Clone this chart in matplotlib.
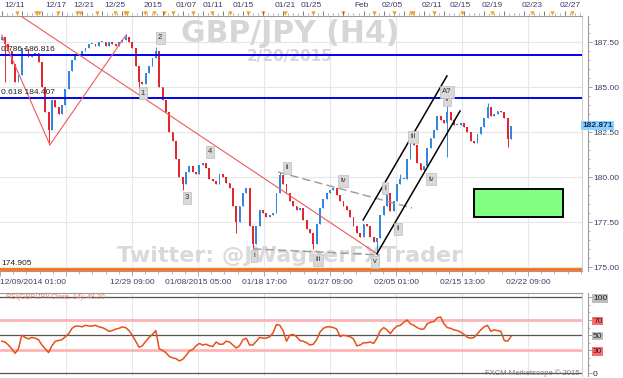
import numpy as np
import matplotlib
matplotlib.use("Agg")
import matplotlib.pyplot as plt
from matplotlib.patches import Rectangle

plt.rcParams["font.family"] = ["Liberation Sans", "DejaVu Sans"]

# GBP/JPY H4, one candle per 2 bars (12/09/2014 -> 02/20/2015)
closes = [
    187.8, 187.4, 187.0, 186.3, 185.3, 185.7, 187.2, 187.1, 186.7, 186.8,
    186.9, 186.4, 185.0, 183.6, 182.6, 184.3, 183.9, 183.5, 184.0, 184.9,
    185.9, 186.5, 186.8, 186.8, 187.0, 187.2, 187.4, 187.4, 187.3, 187.5,
    187.5, 187.3, 187.5, 187.4, 187.3, 187.5, 187.6, 187.8, 187.5, 187.2,
    186.2, 185.3, 185.2, 185.8, 186.2, 186.6, 187.0, 185.0, 184.3, 183.6,
    182.5, 182.0, 181.0, 180.0, 179.6, 180.3, 180.6, 180.3, 180.2, 180.7,
    180.8, 180.5, 179.9, 179.8, 179.6, 180.2, 180.0, 179.7, 179.4, 178.4,
    177.5, 178.4, 179.1, 179.4, 177.3, 176.3, 177.3, 178.2, 178.0, 177.8,
    177.9, 178.0, 179.1, 180.1, 179.6, 179.1, 178.7, 178.4, 178.2, 178.3,
    177.6, 177.1, 176.9, 176.3, 177.4, 178.3, 178.8, 179.1, 179.3, 179.4,
    179.0, 178.7, 178.4, 178.2, 177.8, 177.3, 176.9, 176.7, 177.4, 177.3,
    176.7, 176.4, 176.6, 177.9, 178.4, 179.1, 178.1, 178.7, 179.6, 179.9,
    179.9, 181.0, 182.2, 181.8, 180.8, 180.4, 180.6, 181.6, 182.2, 182.6,
    183.4, 183.2, 183.0, 183.6, 183.2, 182.9, 182.9, 183.0, 182.8, 182.5,
    182.0, 181.9, 182.4, 182.8, 183.3, 183.9, 183.4, 183.5, 183.7, 183.6,
    183.3, 182.1, 182.871,
]
first_open = 187.6
wick_hi = {37: 187.95, 46: 187.25, 83: 180.3, 119: 180.2, 122: 182.5, 133: 184.1, 145: 184.1}
wick_lo = {1: 185.3, 14: 181.8, 41: 184.9, 54: 179.3, 70: 176.9, 75: 176.0, 93: 176.0,
           112: 175.7, 133: 181.1, 151: 181.7}

rsi = [
    42, 41, 37, 32, 26, 32, 50, 47, 45, 47,
    46, 44, 37, 32, 27, 36, 42, 43, 44, 48,
    52, 59, 62, 62, 61, 63, 62, 62, 63, 61,
    60, 58, 55, 56, 58, 59, 61, 60, 56, 50,
    42, 34, 36, 42, 47, 51, 56, 32, 30, 27,
    22, 20, 19, 16, 18, 23, 29, 31, 36, 39,
    37, 38, 36, 35, 41, 38, 38, 42, 41, 37,
    33, 36, 44, 46, 37, 37, 42, 47, 46, 46,
    48, 53, 64, 63, 56, 42, 50, 51, 48, 43,
    42, 40, 37, 38, 44, 54, 59, 61, 61, 60,
    58, 48, 50, 49, 48, 45, 36, 37, 40, 40,
    41, 39, 46, 56, 60, 57, 52, 58, 62, 63,
    67, 70, 65, 63, 60, 58, 58, 65, 67, 68,
    73, 74, 65, 60, 59, 57, 56, 54, 51, 47,
    46, 47, 52, 57, 61, 63, 55, 57, 56, 55,
    43, 42, 48.2,
]

fib_levels = [("0.786", 186.816), ("0.618", 184.407)]
support = 174.905

# drawings (candle index, price)
red_trend = [(5.8, 188.95), (112.0, 175.75)]
red_v = [(0.0, 187.9), (14.4, 181.8), (37.1, 187.9)]
dash_upper = [(82.5, 180.29), (122.5, 178.29)]
dash_lower = [(75.0, 176.02), (112.9, 175.68)]
chan_upper = [(107.9, 177.63), (132.9, 185.63)]
chan_lower = [(112.0, 175.75), (136.8, 183.68)]
target_x = (141.0, 167.6)
target_p = (177.79, 179.35)

wave_labels = [("2", 47.3, 187.74), ("1", 42.2, 184.68), ("3", 55.3, 178.85), ("4", 62.2, 181.41),
               ("ii", 85.2, 180.52), ("i", 75.3, 175.63), ("iii", 94.4, 175.41), ("iv", 101.9, 179.8),
               ("v", 111.4, 175.3), ("i", 114.4, 179.4), ("ii", 118.3, 177.13), ("iii", 122.8, 182.24),
               ("iv", 128.2, 179.9), ("v", 132.9, 184.3), ("A?", 132.9, 184.74)]

top_dates = ["12/11", "12/17", "12/21", "12/25", "2015", "01/07", "01/11", "01/15", "01/21",
             "01/25", "Feb", "02/05", "02/11", "02/15", "02/19", "02/23", "02/27"]
top_pos = [4.0, 16.2, 24.6, 33.8, 45.2, 55.0, 63.1, 72.0, 84.6, 92.3, 107.5, 116.5, 128.4,
           136.8, 146.4, 158.3, 169.6]
event_pos = [4.6, 10.2, 11.1, 16.8, 22.5, 23.4, 28.4, 33.8, 36.8, 37.4, 42.8, 45.5, 48.5,
             51.1, 57.1, 62.8, 68.1, 73.5, 78.0, 84.6, 92.9, 101.9, 111.1, 117.1, 122.2,
             122.8, 129.1, 137.4, 146.4, 158.3, 164.3, 170.2]
bottom_dates = ["12/09/2014 01:00", "", "12/29 09:00", "01/08/2015 05:00", "01/18 17:00",
                "01/27 09:00", "02/05 01:00", "02/15 13:00", "02/22 09:00"]

W, H = 623, 378
fig = plt.figure(figsize=(W / 100, H / 100), dpi=100)


def box(l, t, r, b):
    return [l / W, 1 - b / H, (r - l) / W, (b - t) / H]


ax = fig.add_axes(box(0, 16, 582, 271))
ar = fig.add_axes(box(0, 293, 582, 376))
at = fig.add_axes(box(0, 0, 582, 16))

xlim = (-0.5, 173.2)
grid_x = np.arange(1, 9) * 19.7 - 0.5
label_col = "#3d3d6b"
frame_col = "#9a9a9a"
fs = 6

# ---- price panel
n = len(closes)
x = np.arange(n)
c = np.array(closes)
o = np.r_[first_open, c[:-1]]
hi = np.maximum(o, c)
lo = np.minimum(o, c)
for k, v in wick_hi.items():
    hi[k] = v
for k, v in wick_lo.items():
    lo[k] = v
up = c >= o
cols = np.where(up, "#3187e0", "#e3262b")
body_b = np.minimum(o, c)
body_h = np.maximum(np.abs(c - o), 0.05)
ax.vlines(x, lo, hi, colors=cols, lw=0.7, zorder=3)
ax.bar(x, body_h, bottom=body_b, width=0.55, color=cols, zorder=3, linewidth=0)

ax.set_xlim(*xlim)
ax.set_ylim(174.79, 188.96)
for gx in grid_x:
    ax.axvline(gx, color="#e6e6e6", lw=0.8, zorder=0)
for gy in [175, 177.5, 180, 182.5, 185, 187.5]:
    ax.axhline(gy, color="#e6e6e6", lw=0.8, zorder=0)

for name, lvl in fib_levels:
    ax.axhline(lvl, color="#0000ee", lw=1.4, zorder=4)
    ax.text(-0.2, lvl + 0.08, f"{name} {lvl:.3f}", fontsize=fs, color="#222222",
            va="bottom", ha="left", zorder=5)
ax.axhline(support, color="#ff6a10", lw=2, zorder=4)
ax.text(-0.2, support + 0.1, f"{support:.3f}", fontsize=fs, color="#222222",
        va="bottom", ha="left", zorder=5)

ax.plot(*zip(*red_trend), color="#f05a5a", lw=0.8, zorder=4)
ax.plot(*zip(*red_v), color="#f05a5a", lw=0.8, zorder=4)
ax.plot(*zip(*dash_upper), color="#9a9a9a", lw=1.0, ls=(0, (6, 3)), zorder=4)
ax.plot(*zip(*dash_lower), color="#9a9a9a", lw=1.0, ls=(0, (6, 3)), zorder=4)
ax.plot(*zip(*chan_upper), color="black", lw=1.1, zorder=4)
ax.plot(*zip(*chan_lower), color="black", lw=1.1, zorder=4)
ax.add_patch(Rectangle((target_x[0], target_p[0]), target_x[1] - target_x[0],
                       target_p[1] - target_p[0], fc="#80ff80", ec="black", lw=1.4, zorder=4))

for s, xi, p in wave_labels:
    ax.text(xi, p, s, fontsize=5.5, ha="center", va="center", color="#333333", zorder=6,
            bbox=dict(boxstyle="square,pad=0.3", fc="#d9d9d9", ec="#bdbdbd", lw=0.5))

ax.text(290 / W, 1 - 33 / H, "GBP/JPY (H4)", transform=fig.transFigure, fontsize=21.5,
        fontweight="bold", family="DejaVu Sans", color="#d6d6d6", ha="center", va="center",
        zorder=1)
ax.text(290 / W, 1 - 57 / H, "2/20/2015", transform=fig.transFigure, fontsize=11,
        fontweight="bold", family="DejaVu Sans", color="#d6d6d6", ha="center", va="center",
        zorder=1)
ax.text(290 / W, 1 - 256 / H, "Twitter: @JWagnerFXTrader", transform=fig.transFigure,
        fontsize=16, fontweight="bold", family="DejaVu Sans", color="#d9d9d9", ha="center",
        va="center", zorder=1)

ax.yaxis.tick_right()
ax.spines["right"].set_position(("outward", 4))
ax.spines["left"].set_visible(False)
for sp in ["right", "top", "bottom"]:
    ax.spines[sp].set_color(frame_col)
    ax.spines[sp].set_linewidth(0.8)
ax.plot([1, 1], [0, 1], transform=ax.transAxes, color="#cfcfcf", lw=0.8, clip_on=False)
ax.set_yticks([175, 177.5, 180, 182.5, 185, 187.5])
ax.set_yticklabels([f"{v:.2f}" for v in [175, 177.5, 180, 182.5, 185, 187.5]])
ax.set_yticks(np.arange(175, 189, 0.5), minor=True)
ax.tick_params(axis="y", which="major", length=3, width=0.6, color=frame_col,
               labelsize=fs, labelcolor=label_col, pad=1)
ax.tick_params(axis="y", which="minor", length=1.5, width=0.5, color=frame_col)
ax.set_xticks(np.r_[-0.5, grid_x])
ax.set_xticklabels(bottom_dates)
ax.get_xticklabels()[0].set_ha("left")
ax.set_xticks(np.arange(-0.5, 173, 3.94), minor=True)
ax.tick_params(axis="x", which="major", length=3.5, width=0.6, color=frame_col,
               labelsize=fs, labelcolor=label_col, pad=2)
ax.tick_params(axis="x", which="minor", length=2, width=0.5, color=frame_col)

ax.text(1.0, 182.871, "182.871", transform=ax.get_yaxis_transform(), fontsize=fs,
        fontweight="bold", color="#1a2a6a", ha="left", va="center", zorder=10,
        bbox=dict(boxstyle="square,pad=0.15", fc="#87d3fa", ec="none"), clip_on=False)

# ---- top date strip
at.set_xlim(*xlim)
at.set_ylim(0, 1)
at.axis("off")
for s, p in zip(top_dates, top_pos):
    at.text(p, 0.68, s, fontsize=fs, color=label_col, ha="center", va="center")
at.vlines(np.arange(0, 173, 1.5), 0.05, 0.2, color="#888888", lw=0.5)
at.vlines(np.arange(0, 173, 6), 0.05, 0.3, color="#666666", lw=0.6)
at.scatter(event_pos, [0.18] * len(event_pos), marker="v", s=10, color="#f7a21b", lw=0)

# ---- RSI panel
ar.plot(x, rsi, color="#e8501a", lw=1.1, zorder=4)
ar.set_xlim(*xlim)
ar.set_ylim(-3.96, 105.7)
for gx in grid_x:
    ar.axvline(gx, color="#e6e6e6", lw=0.8, zorder=0)
ar.axhline(100, color="#555555", lw=0.9, zorder=2)
ar.axhline(50, color="#555555", lw=0.9, zorder=2)
ar.axhline(70, color="#ffb3b3", lw=2, zorder=2)
ar.axhline(30, color="#ffb3b3", lw=2, zorder=2)
ar.axhline(0, color="#555555", lw=0.9, zorder=2)
ar.text(1.2, 100, "RSI(GBP/JPY.Close, 14): 48.20", fontsize=5, color="#e8806a",
        ha="left", va="center", zorder=5)
ar.text(0.995, 0.03, "FXCM Marketscope \u00a9 2015", transform=ar.transAxes, fontsize=5.5,
        color="#777777", ha="right", va="center", zorder=5)
ar.yaxis.tick_right()
ar.spines["right"].set_position(("outward", 4))
ar.spines["left"].set_visible(False)
ar.spines["bottom"].set_visible(False)
for sp in ["right", "top"]:
    ar.spines[sp].set_color(frame_col)
    ar.spines[sp].set_linewidth(0.8)
ar.plot([1, 1], [0, 1], transform=ar.transAxes, color="#cfcfcf", lw=0.8, clip_on=False)
ar.set_xticks([])
ar.set_yticks([0, 30, 50, 70, 100])
ar.set_yticks(np.arange(0, 101, 10), minor=True)
ar.tick_params(axis="y", which="major", length=3, width=0.6, color=frame_col,
               labelsize=fs, labelcolor="#222222", pad=1)
ar.tick_params(axis="y", which="minor", length=1.5, width=0.5, color=frame_col)
box_cols = {"0": None, "30": "#ff6b6b", "50": "#bdbdbd", "70": "#ff6b6b", "100": "#bdbdbd"}
for lbl, v in zip(ar.get_yticklabels(), ["0", "30", "50", "70", "100"]):
    if box_cols[v]:
        lbl.set_bbox(dict(boxstyle="square,pad=0.1", fc=box_cols[v], ec="none"))

fig.savefig("out.png", dpi=100)
